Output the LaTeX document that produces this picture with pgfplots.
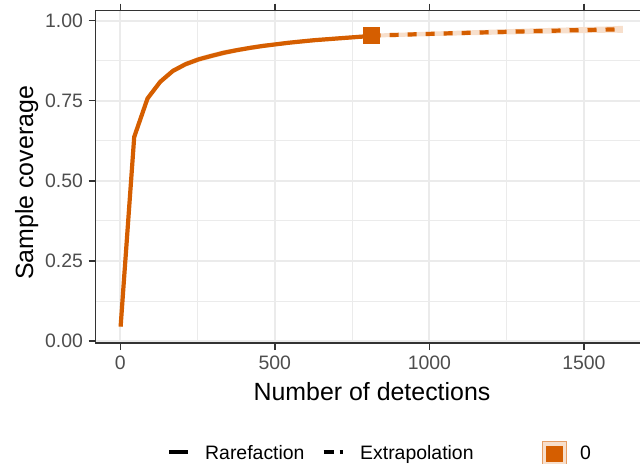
\documentclass[border=0pt]{standalone}
\usepackage{fontspec}
\setmainfont{Liberation Sans}
\usepackage{pgfplots}
\usepackage{pgfplotstable}
\pgfplotsset{compat=1.18}
\usepgfplotslibrary{fillbetween}
\definecolor{inext}{HTML}{D55E00}
\definecolor{band}{HTML}{F7DFCC}
\definecolor{gridgray}{HTML}{EBEBEB}
\definecolor{ticktext}{HTML}{4D4D4D}
\definecolor{frame}{HTML}{333333}

% sample coverage, rarefaction up to 813, extrapolation beyond
\pgfplotstableread{
m     c       lo      hi
1     0.045   0.041   0.049
45    0.637   0.629   0.645
88    0.757   0.748   0.766
129   0.809   0.801   0.817
170   0.843   0.835   0.851
211   0.864   0.856   0.872
253   0.879   0.871   0.887
295   0.890   0.882   0.898
336   0.900   0.892   0.908
378   0.908   0.901   0.915
420   0.915   0.908   0.922
461   0.921   0.914   0.928
503   0.926   0.920   0.932
545   0.931   0.925   0.937
586   0.935   0.929   0.941
628   0.939   0.933   0.945
670   0.942   0.936   0.948
711   0.945   0.939   0.951
753   0.948   0.942   0.954
795   0.951   0.945   0.957
813   0.953   0.947   0.959
834   0.9537  0.9475  0.9599
876   0.9550  0.9486  0.9614
918   0.9562  0.9496  0.9628
959   0.9575  0.9507  0.9643
1001  0.9586  0.9516  0.9656
1043  0.9598  0.9526  0.9670
1084  0.9609  0.9535  0.9683
1126  0.9620  0.9544  0.9696
1168  0.9631  0.9553  0.9709
1209  0.9641  0.9561  0.9721
1251  0.9651  0.9569  0.9733
1293  0.9661  0.9577  0.9745
1334  0.9671  0.9585  0.9757
1376  0.9680  0.9592  0.9768
1418  0.9689  0.9599  0.9779
1459  0.9698  0.9606  0.9790
1501  0.9706  0.9612  0.9800
1543  0.9714  0.9618  0.9810
1584  0.9722  0.9624  0.9820
1626  0.9730  0.9620  0.9840
}\cov

\begin{document}
\begin{tikzpicture}[x=1bp,y=1bp]
\begin{axis}[
  at={(95.5bp,121bp)}, anchor=south west,
  width=552.5bp, height=332.3bp, scale only axis,
  xmin=-80.25, xmax=1707.25,
  ymin=-0.006, ymax=1.031,
  xtick={0,500,1000,1500}, xticklabels={0,500,1000,1500},
  ytick={0,0.25,0.5,0.75,1}, yticklabels={0.00,0.25,0.50,0.75,1.00},
  minor xtick={250,750,1250},
  minor ytick={0.125,0.375,0.625,0.875},
  grid=both,
  major grid style={gridgray, line width=2bp},
  minor grid style={gridgray, line width=1bp},
  tick align=outside, major tick length=7bp, minor tick length=0pt,
  tick style={frame, line width=1.5bp},
  axis line style={frame, line width=1.5bp},
  ticklabel style={font=\fontsize{19.5}{20}\selectfont, text=ticktext},
  xticklabel style={anchor=north, yshift=-2bp},
  yticklabel style={anchor=east, xshift=-2bp},
]
\addplot[draw=none, name path=hi, forget plot] table[x=m, y=hi] {\cov};
\addplot[draw=none, name path=lo, forget plot] table[x=m, y=lo] {\cov};
\addplot[band, draw=none, forget plot] fill between[of=hi and lo];

\addplot[inext, line width=4.2bp, line join=round, restrict x to domain=1:813]
  table[x=m, y=c] {\cov};
\addplot[inext, line width=4.2bp, dash pattern=on 9bp off 9bp, restrict x to domain=813:1626]
  table[x=m, y=c] {\cov};
\addplot[only marks, mark=square*, mark size=8bp, inext] coordinates {(813,0.953)};
\end{axis}

% axis titles
\node[font=\fontsize{25}{27}\selectfont, anchor=base] at (372bp,63bp) {Number of detections};
\node[font=\fontsize{25}{27}\selectfont, anchor=base, rotate=90] at (33bp,281bp) {Sample coverage};

% legend at the bottom edge
\draw[black, line width=4bp] (169bp,11.5bp) -- (188bp,11.5bp);
\node[font=\fontsize{19.5}{20}\selectfont, anchor=base west, inner sep=0pt] at (205bp,5bp) {Rarefaction};
\draw[black, line width=4bp, dash pattern=on 10bp off 6bp] (323.6bp,11.5bp) -- (342.5bp,11.5bp);
\node[font=\fontsize{19.5}{20}\selectfont, anchor=base west, inner sep=0pt] at (360bp,5bp) {Extrapolation};
\fill[band, draw=inext!60, line width=1bp] (542bp,0bp) rectangle (566bp,22bp);
\fill[inext] (546bp,2bp) rectangle (563bp,18bp);
\node[font=\fontsize{19.5}{20}\selectfont, anchor=base west, inner sep=0pt] at (580bp,5bp) {0};

\pgfresetboundingbox
\path[use as bounding box] (0bp,0bp) rectangle (640bp,464bp);
\end{tikzpicture}
\end{document}
